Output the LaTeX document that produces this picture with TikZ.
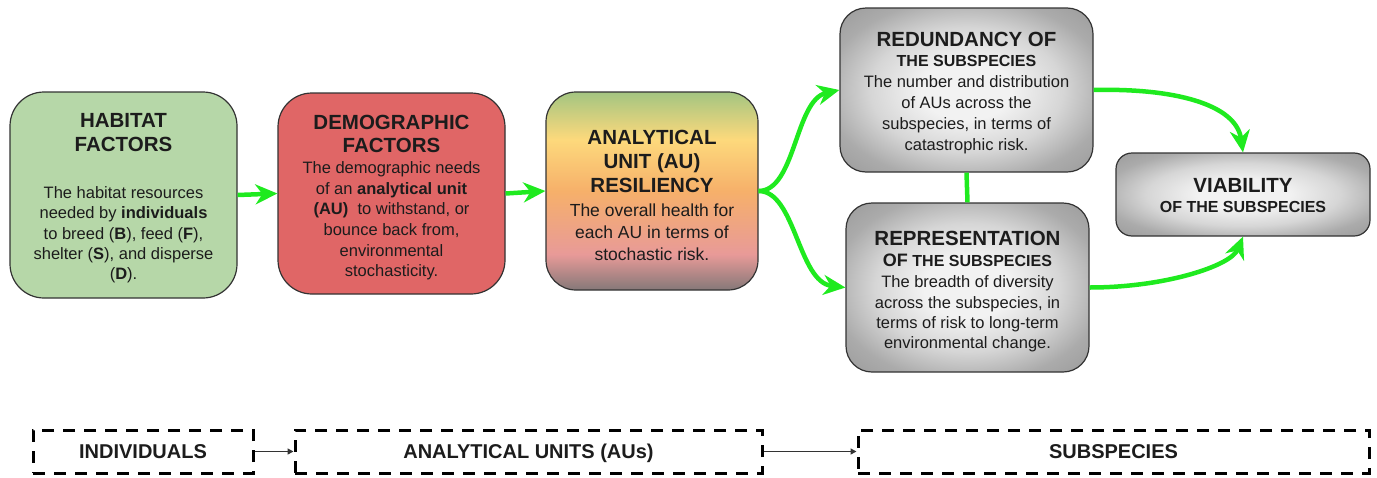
\documentclass[tikz,border=0pt]{standalone}
\usepackage{fontspec}
\setmainfont{Liberation Sans}
\usetikzlibrary{arrows.meta}

\definecolor{habgreen}{HTML}{B6D7A8}
\definecolor{demred}{HTML}{E06666}
\definecolor{edge}{HTML}{333333}
\definecolor{ink}{HTML}{1C1C1C}
\definecolor{flowgreen}{HTML}{1FEA1F}
\definecolor{linkgray}{HTML}{333333}
\definecolor{auTop}{HTML}{A3C581}
\definecolor{auYellow}{HTML}{FDD97C}
\definecolor{auOrange}{HTML}{F6B06A}
\definecolor{auPink}{HTML}{E89A98}
\definecolor{auBot}{HTML}{857878}
\definecolor{glowIn}{HTML}{F2F2F2}
\definecolor{glowMid}{HTML}{D6D6D6}
\definecolor{glowOut}{HTML}{ABABAB}
\definecolor{glowCorner}{HTML}{9A9A9A}

% resiliency box: green at the top, through yellow and orange, to pink and grey
\pgfdeclareverticalshading{aushade}{100bp}{color(0bp)=(auBot); color(25bp)=(auBot);
  color(34bp)=(auPink); color(50bp)=(auOrange); color(63bp)=(auYellow);
  color(75bp)=(auTop); color(100bp)=(auTop)}
% grey boxes: light centre fading to grey edges
\pgfdeclareradialshading{grayglow}{\pgfpoint{0bp}{0bp}}{color(0bp)=(glowIn);
  color(9bp)=(glowIn); color(19bp)=(glowMid); color(28bp)=(glowOut);
  color(36bp)=(glowCorner); color(50bp)=(glowCorner)}

\tikzset{
  factorbox/.style={draw=edge, line width=1.2pt, inner sep=0pt},
  ttl/.style={font=\fontsize{20.5pt}{#1}\selectfont\bfseries, align=center, text=ink, inner sep=0pt},
  ttl/.default=24pt,
  subttl/.style={font=\fontsize{16pt}{19pt}\selectfont\bfseries, align=center, text=ink, inner sep=0pt},
  bodytext/.style={font=\fontsize{16.5pt}{#1}\selectfont, align=center, text=ink, inner sep=0pt},
  bodytext/.default=20.5pt,
  flow/.style={draw=flowgreen, line width=4.5pt,
    -{Stealth[length=22pt,width=20pt,inset=7pt]}},
  scopebox/.style={draw=black, line width=3pt, dash pattern=on 12pt off 9pt,
    font=\fontsize{20pt}{24pt}\selectfont\bfseries, text=ink,
    text height=14pt, text depth=0pt, inner sep=0pt},
  scopelink/.style={draw=linkgray, line width=1.8pt,
    -{Triangle[length=6pt,width=6pt]}},
}

\begin{document}
\begin{tikzpicture}[x=1pt,y=-1pt]
\useasboundingbox (0,0) rectangle (1377,477);

% ---- main boxes ----
\node[factorbox, fill=habgreen, minimum width=227pt, minimum height=206pt,
  rounded corners=34pt] (hab) at (123.5,195) {};
\node[factorbox, fill=demred, minimum width=227pt, minimum height=201pt,
  rounded corners=34pt] (dem) at (391.5,193.5) {};
\node[factorbox, shade, shading=aushade, minimum width=212pt, minimum height=198pt,
  rounded corners=30pt] (au) at (652,191) {};
\node[factorbox, shade, shading=grayglow, minimum width=253pt, minimum height=164pt,
  rounded corners=26pt] (red) at (966.5,90) {};
\node[factorbox, shade, shading=grayglow, minimum width=243pt, minimum height=169pt,
  rounded corners=26pt] (rep) at (967.5,287.5) {};
\node[factorbox, shade, shading=grayglow, minimum width=254pt, minimum height=83pt,
  rounded corners=16pt] (via) at (1243,194.5) {};

% ---- box texts ----
\node[ttl=24.5pt] (habT) at (123.5,132.5) {HABITAT\\FACTORS};
\node[bodytext=20.3pt] (habB) at (123.5,235) {The habitat resources\\needed by \textbf{individuals}\\to breed (\textbf{B}), feed (\textbf{F}),\\shelter (\textbf{S}), and disperse\\(\textbf{D}).};

\node[ttl=23pt] (demT) at (391.5,133.5) {DEMOGRAPHIC\\FACTORS};
\node[bodytext=20.6pt] (demB) at (391.5,221) {The demographic needs\\of an \textbf{analytical unit}\\\textbf{(AU)}~ to withstand, or\\bounce back from,\\environmental\\stochasticity.};

\node[ttl=24pt] (auT) at (652,161) {ANALYTICAL\\UNIT (AU)\\RESILIENCY};
\node[font=\fontsize{17.5pt}{22pt}\selectfont, align=center, text=ink, inner sep=0pt]
  (auB) at (652,232) {The overall health for\\each AU in terms of\\stochastic risk.};

\node[ttl] (redT) at (966.5,39) {REDUNDANCY OF};
\node[subttl] (redS) at (966.5,61) {THE SUBSPECIES};
\node[bodytext=21pt] (redB) at (966.5,115) {The number and distribution\\of AUs across the\\subspecies, in terms of\\catastrophic risk.};

\node[ttl] (repT) at (967.5,238) {REPRESENTATION};
\node[subttl] (repS) at (967.5,260) {{\fontsize{18pt}{19pt}\selectfont OF} THE SUBSPECIES};
\node[bodytext=20.3pt] (repB) at (967.5,314) {The breadth of diversity\\across the subspecies, in\\terms of risk to long-term\\environmental change.};

\node[ttl] (viaT) at (1243,185) {VIABILITY};
\node[subttl] (viaS) at (1243,207) {OF THE SUBSPECIES};

% ---- green flow connectors ----
\draw[flow] (hab.east) -- (dem.west);
\draw[flow] (dem.east) -- (au.west);
\draw[flow] (au.east) .. controls +(37,0) and (795,100) .. (red.west);
\draw[flow] (au.east) .. controls +(37,0) and (798,282) .. (rep.west);
\draw[flow] (red.east) .. controls +(80,-2) and (1236,104) .. (via.north);
\draw[flow] (rep.east) .. controls +(75,0) and (1231,266) .. (via.south);
\draw[draw=flowgreen, line width=4.5pt] (red.south) -- (rep.north);

% ---- level-of-organisation scale ----
\node[scopebox, minimum width=220pt, minimum height=43pt] (ind) at (143,451.5) {INDIVIDUALS};
\node[scopebox, minimum width=467pt, minimum height=43pt] (aus) at (528.5,451.5) {ANALYTICAL UNITS (AUs)};
\node[scopebox, minimum width=511pt, minimum height=43pt] (sub) at (1113.5,451.5) {SUBSPECIES};
\draw[scopelink] (ind.east) -- (aus.west);
\draw[scopelink] (aus.east) -- (sub.west);
\end{tikzpicture}
\end{document}
